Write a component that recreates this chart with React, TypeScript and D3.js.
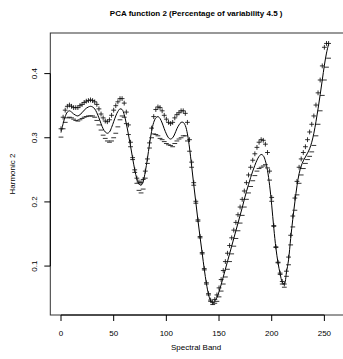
import React from "react";
import * as d3 from "d3";

// Spectral bands (x grid of the evaluated functions)
const bands: number[] = d3.range(0, 256, 2);

// Mean function (solid line)
const meanValues: number[] = [
  0.308, 0.322, 0.333, 0.340, 0.342, 0.340, 0.337, 0.335, 0.334, 0.336,
  0.339, 0.343, 0.346, 0.348, 0.349, 0.348, 0.345, 0.339, 0.331, 0.322,
  0.314, 0.309, 0.307, 0.309, 0.316, 0.325, 0.334, 0.341, 0.345, 0.344,
  0.336, 0.322, 0.305, 0.287, 0.268, 0.250, 0.236, 0.228, 0.226, 0.232,
  0.247, 0.267, 0.290, 0.310, 0.324, 0.331, 0.333, 0.330, 0.323, 0.314,
  0.306, 0.300, 0.298, 0.300, 0.306, 0.314, 0.320, 0.324, 0.324, 0.319,
  0.306, 0.284, 0.256, 0.227, 0.199, 0.171, 0.145, 0.120, 0.095, 0.073,
  0.056, 0.046, 0.043, 0.046, 0.051, 0.060, 0.071, 0.083, 0.095, 0.107,
  0.119, 0.131, 0.143, 0.155, 0.167, 0.179, 0.191, 0.204, 0.216, 0.227,
  0.238, 0.248, 0.257, 0.265, 0.271, 0.274, 0.272, 0.264, 0.249, 0.226,
  0.195, 0.159, 0.128, 0.105, 0.088, 0.075, 0.072, 0.090, 0.110, 0.143,
  0.173, 0.200, 0.225, 0.244, 0.256, 0.264, 0.270, 0.276, 0.283, 0.293,
  0.307, 0.325, 0.345, 0.367, 0.390, 0.413, 0.432, 0.446,
];

// "+" curve: mean + harmonic effect
const plusValues: number[] = [
  0.314, 0.332, 0.343, 0.349, 0.351, 0.349, 0.347, 0.347, 0.347, 0.350,
  0.352, 0.355, 0.357, 0.358, 0.359, 0.358, 0.356, 0.352, 0.345, 0.337,
  0.331, 0.326, 0.325, 0.328, 0.335, 0.343, 0.350, 0.356, 0.361, 0.361,
  0.354, 0.340, 0.320, 0.293, 0.269, 0.250, 0.237, 0.231, 0.230, 0.235,
  0.248, 0.267, 0.292, 0.315, 0.333, 0.344, 0.348, 0.347, 0.342, 0.335,
  0.329, 0.324, 0.322, 0.324, 0.331, 0.336, 0.339, 0.342, 0.342, 0.338,
  0.324, 0.297, 0.262, 0.230, 0.201, 0.172, 0.146, 0.121, 0.096, 0.074,
  0.057, 0.047, 0.043, 0.048, 0.055, 0.066, 0.079, 0.093, 0.107, 0.120,
  0.132, 0.144, 0.156, 0.168, 0.180, 0.192, 0.204, 0.217, 0.230, 0.242,
  0.254, 0.265, 0.275, 0.285, 0.293, 0.297, 0.296, 0.290, 0.277, 0.248,
  0.207, 0.163, 0.130, 0.106, 0.089, 0.076, 0.072, 0.092, 0.114, 0.148,
  0.178, 0.206, 0.232, 0.254, 0.267, 0.277, 0.286, 0.297, 0.309, 0.321,
  0.334, 0.351, 0.370, 0.390, 0.412, 0.441, 0.447, 0.447,
];

// "-" curve: mean - harmonic effect
const minusValues: number[] = [
  0.301, 0.314, 0.324, 0.331, 0.332, 0.331, 0.329, 0.327, 0.326, 0.328,
  0.330, 0.332, 0.333, 0.334, 0.334, 0.334, 0.332, 0.327, 0.320, 0.312,
  0.304, 0.299, 0.295, 0.293, 0.295, 0.300, 0.307, 0.317, 0.328, 0.334,
  0.332, 0.322, 0.305, 0.286, 0.266, 0.246, 0.229, 0.218, 0.214, 0.220,
  0.237, 0.260, 0.284, 0.300, 0.306, 0.305, 0.303, 0.299, 0.297, 0.294,
  0.291, 0.289, 0.288, 0.286, 0.291, 0.295, 0.298, 0.300, 0.303, 0.303,
  0.295, 0.279, 0.254, 0.226, 0.198, 0.170, 0.144, 0.119, 0.094, 0.072,
  0.055, 0.045, 0.040, 0.042, 0.045, 0.052, 0.061, 0.072, 0.083, 0.095,
  0.107, 0.119, 0.131, 0.143, 0.155, 0.167, 0.179, 0.192, 0.204, 0.214,
  0.224, 0.233, 0.241, 0.248, 0.252, 0.254, 0.256, 0.258, 0.253, 0.234,
  0.201, 0.162, 0.129, 0.105, 0.087, 0.072, 0.067, 0.084, 0.102, 0.133,
  0.161, 0.187, 0.211, 0.229, 0.242, 0.252, 0.260, 0.266, 0.271, 0.278,
  0.288, 0.303, 0.321, 0.342, 0.366, 0.390, 0.410, 0.424,
];

const xTicks: number[] = [0, 50, 100, 150, 200, 250];
const yTicks: number[] = [0.1, 0.2, 0.3, 0.4];
const titleText = "PCA function 2 (Percentage of variability 4.5 )";
const xLabel = "Spectral Band";
const yLabel = "Harmonic 2";

export default function App() {
  const W = 343;
  const H = 359;
  const left = 50.3;
  const right = 339.3;
  const top = 33;
  const bottom = 315;

  const xr = (d3.extent(bands) as [number, number]);
  const xPad = (xr[1] - xr[0]) * 0.04;
  const x = d3.scaleLinear().domain([xr[0] - xPad, xr[1] + xPad]).range([left, right]);

  const all = [...meanValues, ...plusValues, ...minusValues];
  const yr = d3.extent(all) as [number, number];
  const yPad = (yr[1] - yr[0]) * 0.04;
  const y = d3.scaleLinear().domain([yr[0] - yPad, yr[1] + yPad]).range([bottom, top]);

  const line = d3
    .line<number>()
    .x((_, i) => x(bands[i]))
    .y((d) => y(d))
    .curve(d3.curveCatmullRom.alpha(0.5));

  const font = "'Liberation Sans', Arial, Helvetica, sans-serif";
  const s = 2.4;

  return (
    <svg
      width={W}
      height={H}
      style={{ position: "absolute", left: 0, top: 0, background: "#fff" }}
      fontFamily={font}
    >
      <rect x={0} y={0} width={W} height={H} fill="#fff" />
      <text x={(left + 342) / 2} y={16} textAnchor="middle" fontSize={8} fontWeight="bold">
        {titleText}
      </text>
      {/* plot box (right edge falls outside the picture) */}
      <rect x={left} y={top} width={W + 2 - left} height={bottom - top} fill="none" stroke="#333" strokeWidth={1} />
      {/* x axis */}
      <line x1={x(xTicks[0])} x2={x(xTicks[xTicks.length - 1])} y1={bottom} y2={bottom} stroke="#000" />
      {xTicks.map((t) => (
        <g key={"xt" + t}>
          <line x1={x(t)} x2={x(t)} y1={bottom} y2={bottom + 6} stroke="#000" />
          <text x={x(t)} y={bottom + 21} textAnchor="middle" fontSize={8}>
            {t}
          </text>
        </g>
      ))}
      {/* y axis */}
      <line x1={left} x2={left} y1={y(yTicks[0])} y2={y(yTicks[yTicks.length - 1])} stroke="#000" />
      {yTicks.map((t) => (
        <g key={"yt" + t}>
          <line x1={left} x2={left - 6} y1={y(t)} y2={y(t)} stroke="#000" />
          <text
            transform={`translate(${left - 13},${y(t)}) rotate(-90)`}
            textAnchor="middle"
            fontSize={8}
          >
            {d3.format(".1f")(t)}
          </text>
        </g>
      ))}
      <text x={(left + 342) / 2} y={350} textAnchor="middle" fontSize={8}>
        {xLabel}
      </text>
      <text transform={`translate(15,${(top + bottom) / 2}) rotate(-90)`} textAnchor="middle" fontSize={8}>
        {yLabel}
      </text>
      {/* mean line */}
      <path d={line(meanValues) || ""} fill="none" stroke="#000" strokeWidth={1} />
      {/* minus markers */}
      {minusValues.map((v, i) => (
        <line
          key={"m" + i}
          x1={x(bands[i]) - s}
          x2={x(bands[i]) + s}
          y1={y(v)}
          y2={y(v)}
          stroke="#111"
          strokeWidth={0.85}
        />
      ))}
      {/* plus markers */}
      {plusValues.map((v, i) => (
        <g key={"p" + i} stroke="#111" strokeWidth={0.85}>
          <line x1={x(bands[i]) - s} x2={x(bands[i]) + s} y1={y(v)} y2={y(v)} />
          <line x1={x(bands[i])} x2={x(bands[i])} y1={y(v) - s} y2={y(v) + s} />
        </g>
      ))}
    </svg>
  );
}
